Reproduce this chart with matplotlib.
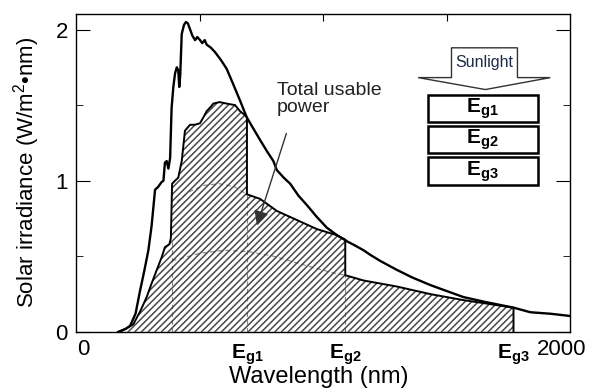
import matplotlib
matplotlib.use('Agg')
import matplotlib.pyplot as plt
from matplotlib.patches import Polygon, Rectangle

plt.rcParams['font.family'] = ['Liberation Sans', 'DejaVu Sans']
plt.rcParams['mathtext.fontset'] = 'custom'
plt.rcParams['mathtext.rm'] = 'Liberation Sans'
plt.rcParams['mathtext.bf'] = 'Liberation Sans:bold'
plt.rcParams['hatch.linewidth'] = 1.1
plt.rcParams['hatch.color'] = '#4a4a4a'

# solar spectrum (wavelength nm, irradiance W/m2/nm)
wl = [170, 200, 218, 240, 258, 275, 292, 305, 312, 319, 332, 345, 353, 359, 366, 373,
      380, 386, 393, 400, 407, 413, 417, 421, 427, 436, 444, 452, 461, 470, 481, 490,
      501, 510, 520, 528, 545, 562, 585, 609, 635, 663, 690, 715, 744, 770, 798, 812,
      840, 866, 900, 933, 974, 1014, 1055, 1095, 1130, 1163, 1190, 1230, 1298, 1360,
      1433, 1500, 1568, 1650, 1771, 1838, 1920, 2000]
sun = [0.0, 0.02, 0.04, 0.12, 0.27, 0.40, 0.54, 0.70, 0.82, 0.94, 0.96, 0.99, 1.00, 1.12, 1.13, 1.08,
       1.15, 1.48, 1.62, 1.71, 1.75, 1.73, 1.62, 1.70, 1.97, 2.03, 2.05, 2.04, 2.00, 1.96, 1.93, 1.95,
       1.93, 1.91, 1.93, 1.90, 1.88, 1.85, 1.80, 1.74, 1.64, 1.53, 1.42, 1.35, 1.27, 1.20, 1.13, 1.07,
       1.02, 0.98, 0.90, 0.84, 0.76, 0.69, 0.64, 0.60, 0.57, 0.54, 0.51, 0.47, 0.41, 0.36,
       0.31, 0.27, 0.23, 0.20, 0.16, 0.13, 0.12, 0.105]

# band gap wavelengths
eg_wl = [691, 1089, 1770]
eg_names = ['g1', 'g2', 'g3']

# upper edge of the usable (hatched) power
use_wl = [171, 200, 231, 260, 285, 305, 326, 345, 359, 377, 383, 388, 400, 413, 427, 440,
          450, 461, 480, 501, 515, 528, 545, 555, 580, 609, 643, 663, 685, 691,
          691, 744, 812, 893, 974, 1014, 1055, 1089,
          1089, 1163, 1298, 1433, 1568, 1650, 1770, 1770]
use_val = [0.0, 0.02, 0.05, 0.14, 0.23, 0.32, 0.41, 0.49, 0.56, 0.58, 0.62, 0.98, 1.00, 1.02, 1.13, 1.33,
           1.35, 1.37, 1.37, 1.38, 1.42, 1.46, 1.49, 1.51, 1.52, 1.51, 1.50, 1.46, 1.43, 1.42,
           0.91, 0.88, 0.80, 0.74, 0.68, 0.66, 0.64, 0.61,
           0.375, 0.34, 0.30, 0.25, 0.21, 0.19, 0.16, 0.0]

# faint curves inside the hatched area
g2_wl = [388, 420, 461, 520, 580, 640, 691]
g2_val = [0.82, 0.88, 0.93, 0.97, 0.98, 0.96, 0.91]
g3_wl = [388, 500, 600, 700, 800, 906, 1040, 1089]
g3_val = [0.47, 0.52, 0.54, 0.53, 0.50, 0.45, 0.39, 0.375]

fig = plt.figure(figsize=(5.91, 3.90), dpi=100)
ax = fig.add_axes([0.129, 0.149, 0.836, 0.816])

ax.fill_between(use_wl, 0, use_val, facecolor='white', hatch='/////', edgecolor='#4a4a4a', linewidth=0)
ax.plot(use_wl, use_val, color='black', lw=1.4, solid_joinstyle='miter')
# faint inner lines
faint = dict(color='#333333', lw=0.8, ls=(0, (4, 3)), alpha=0.6)
ax.plot(g2_wl, g2_val, **faint)
ax.plot(g3_wl, g3_val, **faint)
ax.plot([388, 388], [0, 0.60], **faint)
ax.plot([eg_wl[0], eg_wl[0]], [0, 0.91], **faint)
ax.plot([eg_wl[1], eg_wl[1]], [0, 0.375], **faint)

ax.plot(wl, sun, color='black', lw=1.7)

ax.set_xlim(0, 2000)
ax.set_ylim(0, 2.105)

ax.set_xticks(eg_wl)
ax.set_xticklabels([r'$\mathbf{E}_{\mathbf{%s}}$' % n for n in eg_names])
ax.tick_params(axis='x', bottom=False, pad=4, labelsize=15)
ax.annotate('0', xy=(0, 0), xytext=(5, -5), textcoords='offset points',
            ha='center', va='top', fontsize=16)
ax.annotate('2000', xy=(2000, 0), xytext=(-6, -5), textcoords='offset points',
            ha='center', va='top', fontsize=16)

ax.set_yticks([0, 1, 2])
ax.set_yticks([0.5, 1.5], minor=True)
ax.tick_params(axis='y', which='major', direction='in', length=10, right=True, labelsize=16, pad=6)
ax.tick_params(axis='y', which='minor', direction='in', length=5, right=True)

top = ax.secondary_xaxis('top')
top.set_xticks([500, 1000, 1500])
top.set_xticklabels([])
top.tick_params(direction='in', length=5)
top.spines['top'].set_visible(False)

for s in ax.spines.values():
    s.set_linewidth(1.0)

ax.set_xlabel('Wavelength (nm)', fontsize=17)
ax.xaxis.set_label_coords(0.49, -0.108)
ax.set_ylabel('Solar irradiance (W/m$^{\\mathregular{2}}$\u2022nm)', fontsize=16, labelpad=10)

ax.annotate('', xy=(728, 0.686), xytext=(854, 1.33),
            arrowprops=dict(arrowstyle='-|>', color='#333333', lw=1.0, mutation_scale=22))
ax.text(812, 1.65, 'Total usable\npower', fontsize=14, color='#222222', va='top', ha='left',
        linespacing=1.0)

# sunlight arrow and stacked cells
arrow = Polygon([(1519, 1.879), (1786, 1.879), (1786, 1.682), (1919, 1.682),
                 (1656, 1.603), (1384, 1.682), (1519, 1.682)], closed=True,
                facecolor='white', edgecolor='#333333', lw=1.0)
ax.add_patch(arrow)
ax.text(1652, 1.78, 'Sunlight', fontsize=11.5, color='#1c2a48', ha='center', va='center')
boxes = [(1.567, 1.386), (1.361, 1.181), (1.154, 0.971)]
for (y1, y0), n in zip(boxes, eg_names):
    ax.add_patch(Rectangle((1422, y0), 447, y1 - y0, facecolor='white', edgecolor='black', lw=1.8))
    ax.text(1645, (y0 + y1) / 2, r'$\mathbf{E}_{\mathbf{%s}}$' % n, fontsize=15, ha='center', va='center')

fig.savefig('out.png', dpi=100)
